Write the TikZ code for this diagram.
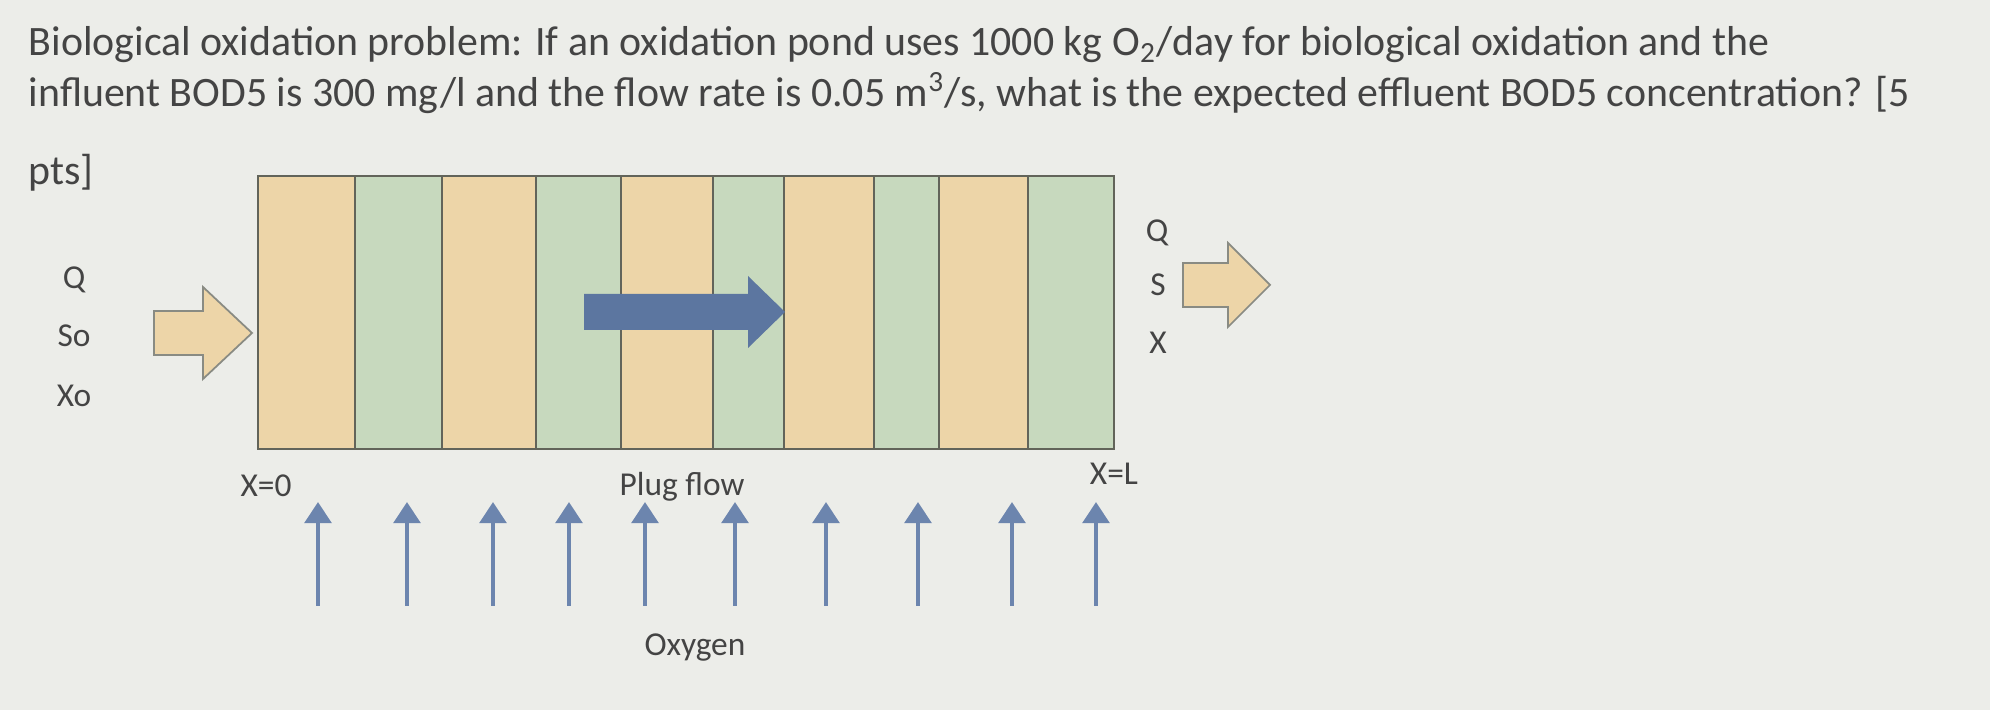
\documentclass[tikz,border=0pt]{standalone}
\usepackage{fontspec}
\setmainfont{Carlito}
\usetikzlibrary{arrows.meta}
\definecolor{peach}{HTML}{EDD5A8}
\definecolor{sage}{HTML}{C7D9BE}
\definecolor{paper}{HTML}{ECEDE9}
\definecolor{ink}{HTML}{444444}
\definecolor{edge}{HTML}{62645A}
\definecolor{flowblue}{HTML}{5C76A0}
\definecolor{oxblue}{HTML}{6C85AE}
\tikzset{
 ttl/.style={text=ink, font=\fontsize{11.9}{14}\selectfont, anchor=base west, inner sep=0pt},
 lbl/.style={text=ink, font=\fontsize{9.5}{11}\selectfont, inner sep=0pt},
 oxarrow/.style={oxblue, line width=1.3pt, -{Triangle[width=7.5pt,length=6pt]}},
 blockarrow/.style={fill=peach, draw=edge!75, line width=0.5pt}
}

\begin{document}
\begin{tikzpicture}[x=0.01cm, y=-0.01cm]
\useasboundingbox (0,0) rectangle (1990,710);
\fill[paper] (0,0) rectangle (1990,710);
\node[ttl] (title1) at (28,56) {Biological oxidation problem: If an oxidation pond uses 1000 kg O\textsubscript{2}/day for biological oxidation and the};
\node[ttl] (title2) at (28,107) {influent BOD5 is 300 mg/l and the flow rate is 0.05 m\textsuperscript{3}/s, what is the expected effluent BOD5 concentration? [5};
\node[ttl] (title3) at (28,185) {pts]};
\foreach \a/\b/\c in {258/355/peach, 355/442/sage, 442/536/peach, 536/621/sage, 621/713/peach, 713/784/sage, 784/874/peach, 874/939/sage, 939/1028/peach, 1028/1114/sage}
 \filldraw[fill=\c, draw=edge, line width=0.8pt] (\a,176) rectangle (\b,449);
\fill[flowblue] (584,294) -- (748,294) -- (748,276) -- (785,312) -- (748,348) -- (748,330) -- (584,330) -- cycle;
\filldraw[blockarrow] (154,311) -- (203,311) -- (203,287) -- (252,333) -- (203,379) -- (203,355) -- (154,355) -- cycle;
\filldraw[blockarrow] (1183,263) -- (1228,263) -- (1228,243) -- (1270,285) -- (1228,327) -- (1228,307) -- (1183,307) -- cycle;
\node[lbl] (qin) at (74,280) {Q};
\node[lbl] (sin) at (74,336) {So};
\node[lbl] (xin) at (74,396) {Xo};
\node[lbl] (qout) at (1157,233) {Q};
\node[lbl] (sout) at (1158,285) {S};
\node[lbl] (xout) at (1158,343) {X};
\node[lbl] (xzero) at (266,486) {X=0};
\node[lbl] (xend) at (1114,474) {X=L};
\node[lbl] (plug) at (682,487) {Plug flow};
\node[lbl] (oxygen) at (695,648) {Oxygen};
\foreach \x [count=\i] in {318,407,493,569,645,735,826,918,1012,1096} {
 \coordinate (ot\i) at (\x,606);
 \coordinate (oh\i) at (\x,502);
 \draw[oxarrow] (ot\i) -- (oh\i);
}
\end{tikzpicture}
\end{document}
